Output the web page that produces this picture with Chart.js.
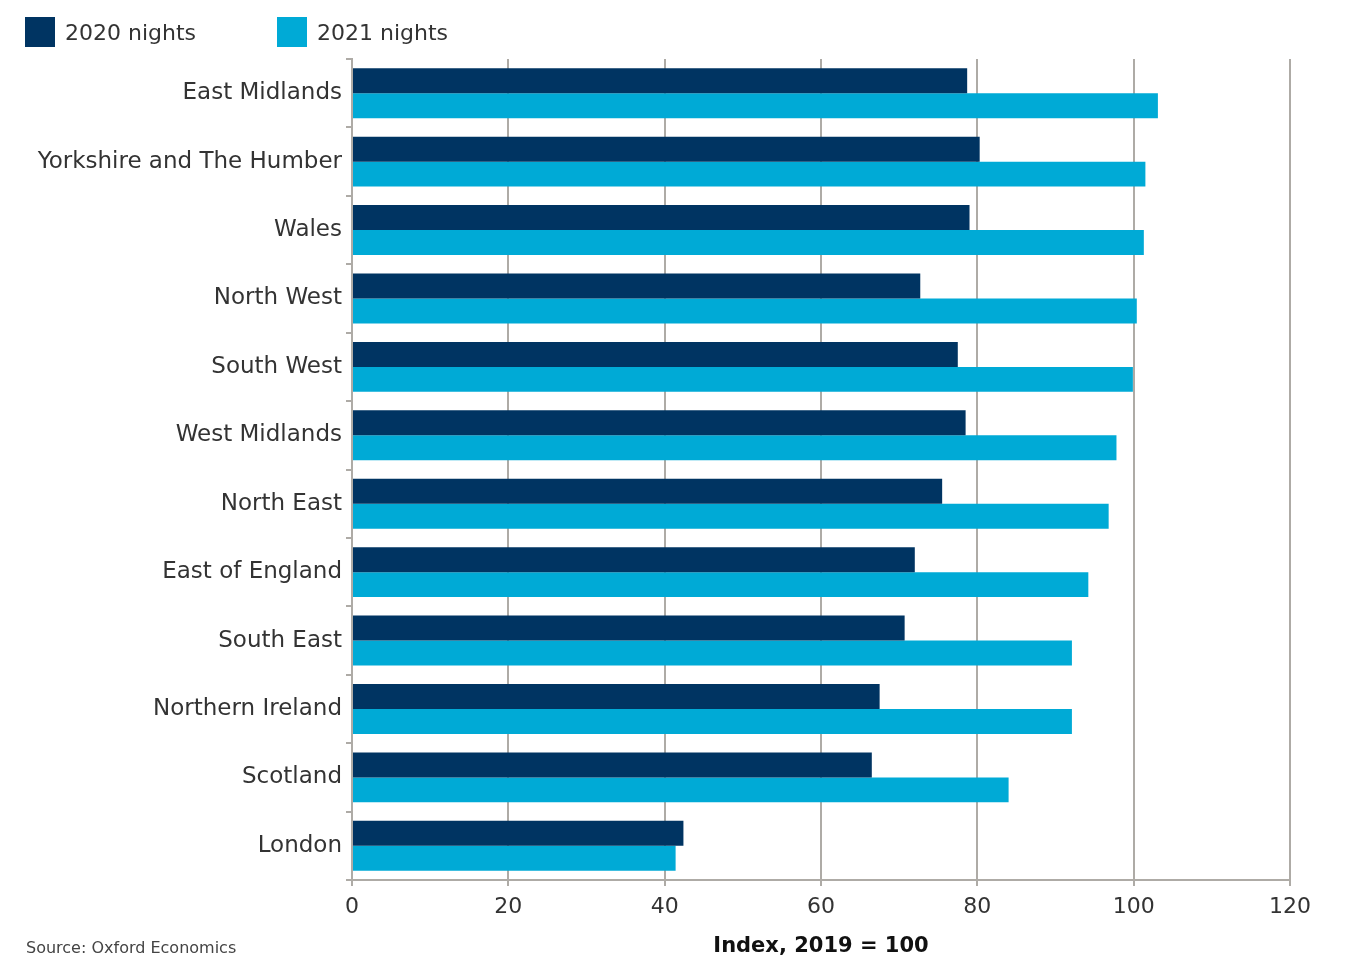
<!DOCTYPE html>
<html>
<head>
<meta charset="utf-8">
<script src="https://cdn.jsdelivr.net/npm/chart.js@4"></script>
<style>
  html, body { margin: 0; padding: 0; background: #fff; }
  #wrap { position: relative; width: 1354px; height: 959px; font-family: "DejaVu Sans", sans-serif; }
  #legend { position: absolute; left: 25px; top: 17px; display: flex; }
  #legend .item { display: flex; align-items: center; color: #333; font-size: 22px; }
  #legend .box { width: 30px; height: 30px; margin-right: 10px; }
  #source { position: absolute; left: 26px; top: 938px; font-size: 16px; color: #444; }
</style>
</head>
<body>
<div id="wrap">
  <canvas id="nightsChart" width="1354" height="959"></canvas>
  <div id="legend"></div>
  <div id="source">Source: Oxford Economics</div>
</div>
<script>
const regions = ['East Midlands', 'Yorkshire and The Humber', 'Wales', 'North West', 'South West',
    'West Midlands', 'North East', 'East of England', 'South East', 'Northern Ireland', 'Scotland', 'London'];
const nights2020 = [78.7, 80.3, 79.0, 72.7, 77.5, 78.5, 75.5, 72.0, 70.7, 67.5, 66.5, 42.4];
const nights2021 = [103.1, 101.5, 101.3, 100.4, 99.9, 97.8, 96.8, 94.2, 92.1, 92.1, 84.0, 41.4];

const gridGrey = '#aeaba6';
const fontFamily = '"DejaVu Sans", sans-serif';

const ctx = document.getElementById('nightsChart').getContext('2d');
const nightsChart = new Chart(ctx, {
    type: 'bar',
    data: {
        labels: regions,
        datasets: [{
            label: '2020 nights',
            data: nights2020,
            backgroundColor: '#003462',
            categoryPercentage: 0.73,
            barPercentage: 1
        }, {
            label: '2021 nights',
            data: nights2021,
            backgroundColor: '#00aad6',
            categoryPercentage: 0.73,
            barPercentage: 1
        }]
    },
    options: {
        indexAxis: 'y',
        responsive: false,
        animation: false,
        layout: {
            padding: { left: 0, right: 64, top: 59, bottom: 0 }
        },
        plugins: {
            tooltip: { enabled: false },
            legend: { display: false }
        },
        scales: {
            x: {
                min: 0,
                max: 120,
                afterFit: scale => { scale.height = 79; },
                ticks: {
                    stepSize: 20,
                    color: '#333',
                    padding: 8,
                    font: { family: fontFamily, size: 22 }
                },
                grid: { color: gridGrey, lineWidth: 2, tickLength: 6 },
                border: { color: gridGrey, width: 2 },
                title: {
                    display: true,
                    text: 'Index, 2019 = 100',
                    color: '#111',
                    padding: { top: 4, bottom: 0 },
                    font: { family: fontFamily, size: 21, weight: 'bold' }
                }
            },
            y: {
                afterFit: scale => { scale.width = 352; },
                ticks: {
                    color: '#333',
                    padding: 4,
                    font: { family: fontFamily, size: 23 }
                },
                grid: { offset: true, drawOnChartArea: false, color: gridGrey, lineWidth: 2, tickLength: 6 },
                border: { color: gridGrey, width: 2 }
            }
        }
    }
});

// legend swatches built from the datasets
const legendEl = document.getElementById('legend');
const legendGaps = [81, 0];
nightsChart.data.datasets.forEach((ds, i) => {
    const item = document.createElement('div');
    item.className = 'item';
    item.style.marginRight = legendGaps[i] + 'px';
    const box = document.createElement('span');
    box.className = 'box';
    box.style.background = ds.backgroundColor;
    item.appendChild(box);
    item.appendChild(document.createTextNode(ds.label));
    legendEl.appendChild(item);
});
</script>
</body>
</html>
